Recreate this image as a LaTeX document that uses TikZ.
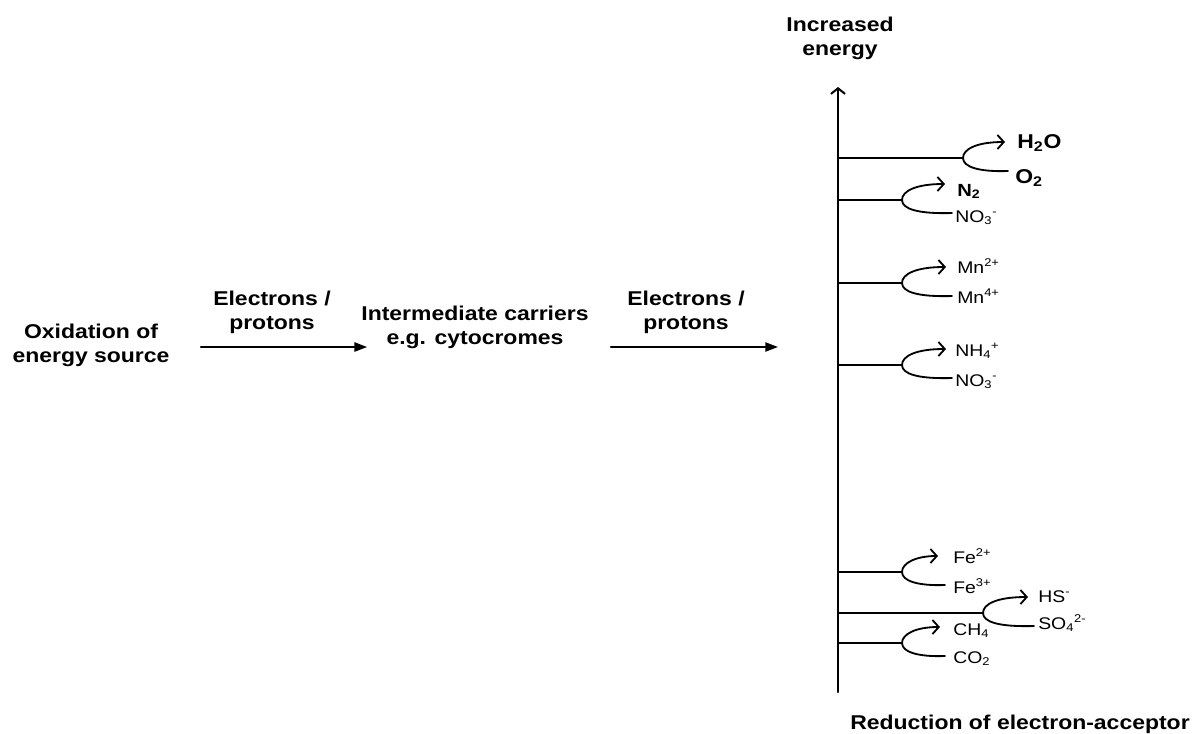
\documentclass[tikz,border=0pt]{standalone}
\usepackage{fontspec}
\setmainfont{Liberation Sans}[FakeStretch=1.15]
\usetikzlibrary{arrows,arrows.meta}

\begin{document}
\begin{tikzpicture}[line cap=round,line join=round,>={Triangle[length=9pt,width=6.5pt]},x=0.025cm,y=-0.025cm,
  lbl/.style={align=center,inner sep=0pt,font=\bfseries\fontsize{14.2}{17.1}\selectfont},
  chem/.style={anchor=base west,inner sep=0pt,font=\fontsize{12}{14}\selectfont},
  bigchem/.style={chem,font=\bfseries\fontsize{14.2}{17}\selectfont},
  flow/.style={->,line width=1.3pt},
  axis/.style={-{Straight Barb[length=4pt,width=10pt]},line width=1.4pt},
  level/.style={line width=1.3pt},
  redox/.style={-{Straight Barb[length=4.5pt,width=10pt]},line width=1.3pt}]
\useasboundingbox (0,0) rectangle (1203,733);
% energy axis
\coordinate (axbot) at (838,692);
\coordinate (axtop) at (838,87);
\draw[axis] (axbot) -- (axtop);
\node[lbl] (ie) at (840,38) {Increased\\energy};
\node[lbl,anchor=base] (red) at (1020,729) {Reduction of electron-acceptor};
% acceptor levels
\foreach \y/\x/\t/\b in {158/963/42/45,200/902/43/50,283/902/44/50,365/902/44/50,572/902/36/43,613/983/45/51,643/902/38/43}{
\draw[level] (838,\y) -- (\x,\y);
\draw[redox,shift={(\x,\y)}] (\b,13) .. controls (16,14) and (0,9) .. (0,0) .. controls (0,-9) and (14,-16) .. (\t,-16);
}
\node[bigchem] (h2o) at (1017,148) {H\textsubscript{2}O};
\node[bigchem] (o2) at (1015,183) {O\textsubscript{2}};
\node[chem,font=\bfseries\fontsize{12.5}{14}\selectfont] (n2) at (957,196) {N\textsubscript{2}};
\node[chem] (no3a) at (955,222) {NO\textsubscript{3}\textsuperscript{-}};
\node[chem] (mn2) at (957,273) {Mn\textsuperscript{2+}};
\node[chem] (mn4) at (957,303) {Mn\textsuperscript{4+}};
\node[chem] (nh4) at (955,356) {NH\textsubscript{4}\textsuperscript{+}};
\node[chem] (no3b) at (955,386) {NO\textsubscript{3}\textsuperscript{-}};
\node[chem] (fe2) at (953,563) {Fe\textsuperscript{2+}};
\node[chem] (fe3) at (953,593) {Fe\textsuperscript{3+}};
\node[chem] (hs) at (1038,602) {HS\textsuperscript{-}};
\node[chem] (so4) at (1038,629) {SO\textsubscript{4}\textsuperscript{2-}};
\node[chem] (ch4) at (953,635) {CH\textsubscript{4}};
\node[chem] (co2) at (953,663) {CO\textsubscript{2}};
% electron flow
\node[lbl] (ox) at (91,345) {Oxidation of\\energy source};
\node[lbl] (ep1) at (272,312) {Electrons /\\protons};
\node[lbl] (ic) at (475,327) {Intermediate carriers\\e.g. cytocromes};
\node[lbl] (ep2) at (686,312) {Electrons /\\protons};
\coordinate (mid) at (0,347);
\draw[flow,shorten <=0.775cm,shorten >=-0.15cm] (ox.east |- mid) -- (ic.west |- mid);
\draw[flow,shorten <=0.55cm,shorten >=1.5cm] (ic.east |- mid) -- (axbot |- mid);
\end{tikzpicture}
\end{document}
